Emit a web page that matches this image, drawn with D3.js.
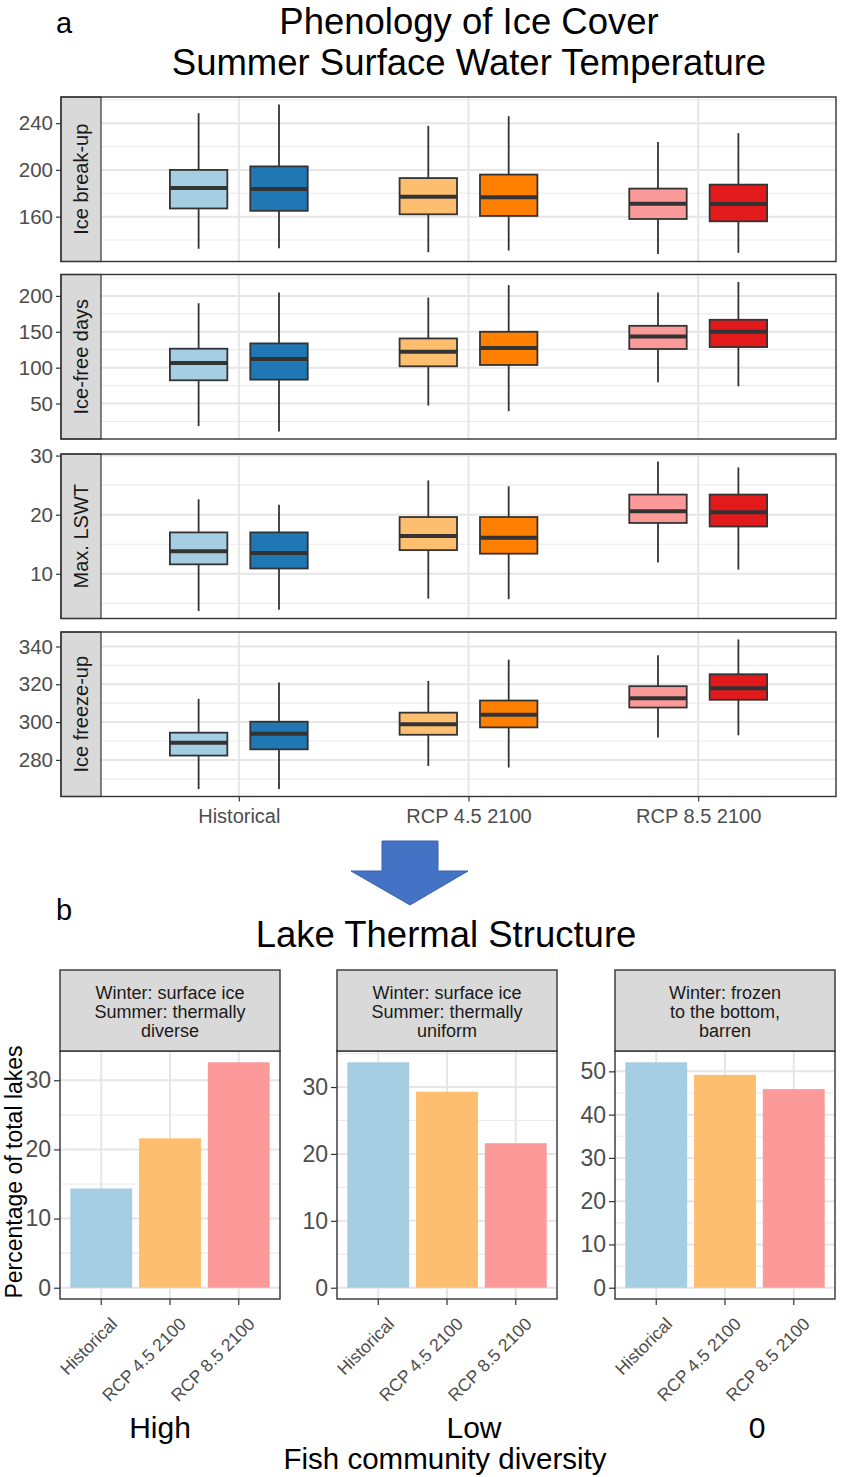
<!DOCTYPE html>
<html>
<head>
<meta charset="utf-8">
<script src="https://cdn.jsdelivr.net/npm/d3@7"></script>
<style>
  html, body { margin: 0; padding: 0; background: #fff; }
  svg { display: block; font-family: "Liberation Sans", Arial, sans-serif; }
</style>
</head>
<body>
<svg id="chart" width="842" height="1477"></svg>
<script>
// ---------------- DATA ----------------
const categories = ["Historical", "RCP 4.5 2100", "RCP 8.5 2100"];
const subgroups = ["light", "dark"];
const boxColors = {
  "Historical":   ["#a6cee3", "#1f78b4"],
  "RCP 4.5 2100": ["#fdbf6f", "#ff7f00"],
  "RCP 8.5 2100": ["#fb9a99", "#e31a1c"]
};
const variables = ["Ice break-up", "Ice-free days", "Max. LSWT", "Ice freeze-up"];

// box stats: [lower whisker, Q1, median, Q3, upper whisker]
// order: Historical light, Historical dark, RCP4.5 light, RCP4.5 dark, RCP8.5 light, RCP8.5 dark
const iceBreakup = [
  [132.5, 167, 184.5, 200, 248.5],
  [133, 165, 183.7, 203, 256],
  [129.5, 162, 177, 193, 237.7],
  [131, 160.6, 176.5, 196, 246],
  [128, 158, 171, 184, 223.8],
  [129, 156, 170.8, 187.4, 231.5]
];
const iceFreeDays = [
  [18.5, 82.4, 106.5, 126.4, 189.8],
  [11, 83.3, 112, 133.8, 204.6],
  [47.2, 101.9, 122.2, 140.7, 197.7],
  [39.4, 103.7, 127.3, 150, 215],
  [79.6, 126, 143.5, 158.3, 204.6],
  [74, 128.7, 150, 166.7, 219.4]
];
const maxLSWT = [
  [3.7, 11.6, 13.8, 17, 22.6],
  [3.9, 10.9, 13.5, 17, 21.7],
  [5.8, 14.0, 16.4, 19.6, 25.8],
  [5.7, 13.4, 16.1, 19.6, 24.8],
  [11.9, 18.6, 20.6, 23.4, 29.0],
  [10.7, 18.0, 20.4, 23.4, 28.0]
];
const iceFreezeup = [
  [264.6, 282.3, 289.1, 294.4, 312.3],
  [264.6, 285.6, 293.9, 300.2, 321],
  [276.8, 293.3, 298.8, 305, 321.8],
  [276, 297.2, 303.9, 311.4, 333],
  [291.9, 307.7, 312.6, 319, 335.3],
  [293, 311.8, 317.9, 325.3, 343.7]
];
const boxTicks = [
  [160, 200, 240],
  [50, 100, 150, 200],
  [10, 20, 30],
  [280, 300, 320, 340]
];

// Panel b
const facetTitles = [
  ["Winter: surface ice", "Summer: thermally", "diverse"],
  ["Winter: surface ice", "Summer: thermally", "uniform"],
  ["Winter: frozen", "to the bottom,", "barren"]
];
const diversityLabels = ["High", "Low", "0"];
const barColors = ["#a6cee3", "#fdbf6f", "#fb9a99"];
const highBars = [14.35, 21.6, 32.6];
const lowBars = [33.7, 29.3, 21.6];
const zeroBars = [52.1, 49.2, 45.9];
const barTicks = [
  [0, 10, 20, 30],
  [0, 10, 20, 30],
  [0, 10, 20, 30, 40, 50]
];

// ---------------- DRAW ----------------
const svg = d3.select("#chart");
const DARK = "#333333";
const TICKTXT = "#4d4d4d";
const FONT = "Liberation Sans, Arial, sans-serif";

svg.append("rect").attr("width", 842).attr("height", 1477).attr("fill", "#fff");

// Titles part a
svg.append("text").attr("x", 56).attr("y", 33).attr("font-size", 29).text("a");
svg.append("text").attr("x", 469).attr("y", 34).attr("text-anchor", "middle")
  .attr("font-size", 36.5).text("Phenology of Ice Cover");
svg.append("text").attr("x", 469).attr("y", 75).attr("text-anchor", "middle")
  .attr("font-size", 36.5).text("Summer Surface Water Temperature");

// Box panels
const stripX0 = 61, plotX0 = 101, plotX1 = 836;
const panelTops = [97, 274.5, 454, 632];
const panelH = 164.5;
const xPoint = d3.scalePoint().domain(categories).range([plotX0, plotX1]).padding(0.6);
const step = xPoint.step();
const subOffset = d3.scalePoint().domain(subgroups).range([-0.175 * step, 0.175 * step]);
const boxW = 0.25 * step;
const allBoxData = [iceBreakup, iceFreeDays, maxLSWT, iceFreezeup];

allBoxData.forEach((stats, vi) => {
  const top = panelTops[vi], bottom = top + panelH;
  const vmin = d3.min(stats, d => d[0]), vmax = d3.max(stats, d => d[4]);
  const pad = (vmax - vmin) * 0.05;
  const y = d3.scaleLinear().domain([vmin - pad, vmax + pad]).range([bottom, top]);
  const g = svg.append("g");
  const ticks = boxTicks[vi];
  const tstep = ticks[1] - ticks[0];
  const minors = [];
  for (let t = ticks[0] - tstep / 2; t <= ticks[ticks.length - 1] + tstep; t += tstep) {
    if (t >= y.domain()[0] && t <= y.domain()[1]) minors.push(t);
  }
  g.append("rect").attr("x", plotX0).attr("y", top).attr("width", plotX1 - plotX0).attr("height", panelH).attr("fill", "#fff");
  g.selectAll(".minor").data(minors).join("line")
    .attr("x1", plotX0).attr("x2", plotX1).attr("y1", d => y(d)).attr("y2", d => y(d))
    .attr("stroke", "#ebebeb").attr("stroke-width", 1.2);
  g.selectAll(".major").data(ticks).join("line")
    .attr("x1", plotX0).attr("x2", plotX1).attr("y1", d => y(d)).attr("y2", d => y(d))
    .attr("stroke", "#e6e6e6").attr("stroke-width", 2);
  g.selectAll(".vgrid").data(categories).join("line")
    .attr("x1", d => xPoint(d)).attr("x2", d => xPoint(d)).attr("y1", top).attr("y2", bottom)
    .attr("stroke", "#e6e6e6").attr("stroke-width", 2);

  stats.forEach((s, i) => {
    const cat = categories[Math.floor(i / 2)];
    const sub = subgroups[i % 2];
    const cx = xPoint(cat) + subOffset(sub);
    const col = boxColors[cat][i % 2];
    g.append("line").attr("x1", cx).attr("x2", cx).attr("y1", y(s[4])).attr("y2", y(s[3]))
      .attr("stroke", DARK).attr("stroke-width", 1.8);
    g.append("line").attr("x1", cx).attr("x2", cx).attr("y1", y(s[1])).attr("y2", y(s[0]))
      .attr("stroke", DARK).attr("stroke-width", 1.8);
    g.append("rect").attr("x", cx - boxW / 2).attr("y", y(s[3])).attr("width", boxW)
      .attr("height", y(s[1]) - y(s[3])).attr("fill", col).attr("stroke", DARK).attr("stroke-width", 1.8);
    g.append("line").attr("x1", cx - boxW / 2).attr("x2", cx + boxW / 2).attr("y1", y(s[2])).attr("y2", y(s[2]))
      .attr("stroke", DARK).attr("stroke-width", 4);
  });

  g.append("rect").attr("x", stripX0).attr("y", top).attr("width", plotX0 - stripX0).attr("height", panelH)
    .attr("fill", "#d9d9d9").attr("stroke", DARK).attr("stroke-width", 1.2);
  g.append("text").attr("transform", `translate(${(stripX0 + plotX0) / 2 + 7},${top + panelH / 2}) rotate(-90)`)
    .attr("text-anchor", "middle").attr("font-size", 20).attr("fill", "#1a1a1a").text(variables[vi]);
  g.append("rect").attr("x", stripX0).attr("y", top).attr("width", plotX1 - stripX0).attr("height", panelH)
    .attr("fill", "none").attr("stroke", DARK).attr("stroke-width", 1.4);

  const ax = g.append("g").attr("transform", `translate(${stripX0},0)`)
    .call(d3.axisLeft(y).tickValues(ticks).tickSize(5).tickPadding(3).tickFormat(d3.format("d")));
  ax.select(".domain").remove();
  ax.selectAll(".tick line").attr("stroke", DARK).attr("stroke-width", 1.2);
  ax.selectAll(".tick text").attr("fill", TICKTXT).attr("font-size", 20.5).attr("font-family", FONT);

  if (vi === 3) {
    const bx = g.append("g").attr("transform", `translate(0,${bottom})`)
      .call(d3.axisBottom(xPoint).tickSize(5).tickPadding(7));
    bx.select(".domain").remove();
    bx.selectAll(".tick line").attr("stroke", DARK).attr("stroke-width", 1.2);
    bx.selectAll(".tick text").attr("fill", TICKTXT).attr("font-size", 20).attr("font-family", FONT);
  }
});

// Arrow
svg.append("path")
  .attr("d", "M382,841 L438,841 L438,871 L468,871 L410,905 L351,871 L382,871 Z")
  .attr("fill", "#4472c4").attr("stroke", "#3a63ad").attr("stroke-width", 1);

// Titles part b
svg.append("text").attr("x", 56).attr("y", 920).attr("font-size", 29).text("b");
svg.append("text").attr("x", 446).attr("y", 947).attr("text-anchor", "middle")
  .attr("font-size", 36.5).text("Lake Thermal Structure");

// Bar facets
const barData = [highBars, lowBars, zeroBars];
const facetLefts = [60, 337, 615];
const facetW = 220;
const stripTop = 970, stripBot = 1051, panelBot = 1299;
const diversityX = [160, 474, 757];

barData.forEach((vals, fi) => {
  const left = facetLefts[fi], right = left + facetW;
  const g = svg.append("g");
  const vmax = d3.max(vals);
  const y = d3.scaleLinear().domain([-0.05 * vmax, 1.05 * vmax]).range([panelBot, stripBot]);
  const x = d3.scaleBand().domain(categories).range([left, right]).paddingInner(0.1).paddingOuter(0.15);
  const ticks = barTicks[fi];
  const minors = ticks.map(t => t + 5).filter(t => t <= y.domain()[1]);

  g.selectAll(".minor").data(minors).join("line")
    .attr("x1", left).attr("x2", right).attr("y1", d => y(d)).attr("y2", d => y(d))
    .attr("stroke", "#ebebeb").attr("stroke-width", 1.2);
  g.selectAll(".major").data(ticks).join("line")
    .attr("x1", left).attr("x2", right).attr("y1", d => y(d)).attr("y2", d => y(d))
    .attr("stroke", "#e6e6e6").attr("stroke-width", 2);
  g.selectAll(".vgrid").data(categories).join("line")
    .attr("x1", d => x(d) + x.bandwidth() / 2).attr("x2", d => x(d) + x.bandwidth() / 2)
    .attr("y1", stripBot).attr("y2", panelBot)
    .attr("stroke", "#e6e6e6").attr("stroke-width", 2);

  g.selectAll(".bar").data(vals).join("rect")
    .attr("x", (d, i) => x(categories[i])).attr("width", x.bandwidth())
    .attr("y", d => y(d)).attr("height", d => y(0) - y(d))
    .attr("fill", (d, i) => barColors[i]);

  g.append("rect").attr("x", left).attr("y", stripBot).attr("width", facetW).attr("height", panelBot - stripBot)
    .attr("fill", "none").attr("stroke", DARK).attr("stroke-width", 1.4);
  g.append("rect").attr("x", left).attr("y", stripTop).attr("width", facetW).attr("height", stripBot - stripTop)
    .attr("fill", "#d9d9d9").attr("stroke", DARK).attr("stroke-width", 1.4);
  const st = g.append("text").attr("text-anchor", "middle").attr("font-size", 18).attr("fill", "#1a1a1a");
  facetTitles[fi].forEach((line, li) => {
    st.append("tspan").attr("x", left + facetW / 2).attr("y", 999 + li * 19).text(line);
  });

  const ay = g.append("g").attr("transform", `translate(${left},0)`)
    .call(d3.axisLeft(y).tickValues(ticks).tickSize(6).tickPadding(3).tickFormat(d3.format("d")));
  ay.select(".domain").remove();
  ay.selectAll(".tick line").attr("stroke", DARK).attr("stroke-width", 1.2);
  ay.selectAll(".tick text").attr("fill", TICKTXT).attr("font-size", 23).attr("font-family", FONT);

  const axb = g.append("g").attr("transform", `translate(0,${panelBot})`)
    .call(d3.axisBottom(x).tickSize(6));
  axb.select(".domain").remove();
  axb.selectAll(".tick line").attr("stroke", DARK).attr("stroke-width", 1.2);
  axb.selectAll(".tick text")
    .attr("fill", TICKTXT).attr("font-size", 17.5).attr("font-family", FONT)
    .attr("text-anchor", "end").attr("dy", null).attr("y", null)
    .attr("dominant-baseline", "hanging")
    .attr("transform", "translate(8,17) rotate(-45)");

  svg.append("text").attr("x", diversityX[fi]).attr("y", 1438).attr("text-anchor", "middle")
    .attr("font-size", 30).text(diversityLabels[fi]);
});

svg.append("text").attr("x", 445).attr("y", 1469).attr("text-anchor", "middle")
  .attr("font-size", 29.5).text("Fish community diversity");

svg.append("text").attr("transform", "translate(22,1172) rotate(-90)")
  .attr("text-anchor", "middle").attr("font-size", 23).text("Percentage of total lakes");
</script>
</body>
</html>
